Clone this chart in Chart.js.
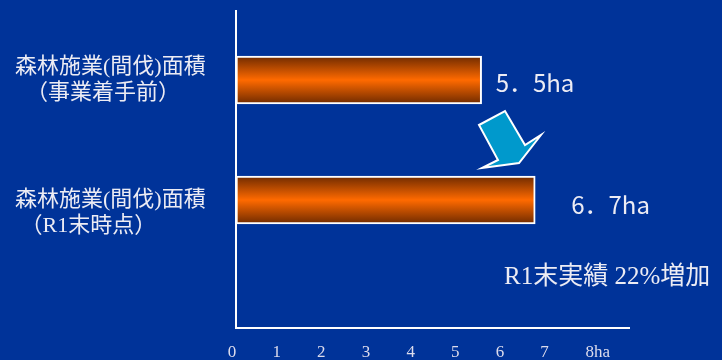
<!DOCTYPE html>
<html>
<head>
<meta charset="utf-8">
<script src="https://cdn.jsdelivr.net/npm/chart.js@4/dist/chart.umd.min.js"></script>
<style>
  html, body { margin: 0; padding: 0; background: #003399; }
  #wrap { width: 722px; height: 360px; }
</style>
</head>
<body>
<div id="wrap"><canvas id="c" width="722" height="360"></canvas></div>
<script>
// ---- data ----
const categories = [
  ['森林施業(間伐)面積', '  （事業着手前）'],
  ['', '森林施業(間伐)面積', ' （R1末時点）']
];
const areaValues = [5.5, 6.7];
const valueLabels = ['5．5ha', '6．7ha'];
const xTickValues = [0, 1, 2, 3, 4, 5, 6, 7, 8];
const xTickLabels = ['0', '1', '2', '3', '4', '5', '6', '7', '    8ha'];
const noteText = 'R1末実績 22%増加';

// ---- styles ----
const BG = '#003399';
const TEXT = '#ececf4';
const MIXED_FONT = '"Liberation Serif", "Noto Sans CJK JP"';

const bgPlugin = {
  id: 'bg',
  beforeDraw(chart) {
    const ctx = chart.ctx;
    ctx.save();
    ctx.fillStyle = BG;
    ctx.fillRect(0, 0, chart.width, chart.height);
    ctx.restore();
  }
};

const annotPlugin = {
  id: 'annot',
  afterDatasetsDraw(chart, args, opts) {
    const ctx = chart.ctx;
    const meta = chart.getDatasetMeta(0);
    ctx.save();
    // value labels
    ctx.fillStyle = TEXT;
    ctx.font = '24px "Noto Sans CJK JP"';
    ctx.textBaseline = 'middle';
    ctx.textAlign = 'left';
    meta.data.forEach((bar, i) => {
      ctx.fillText(valueLabels[i], bar.x + opts.gaps[i], bar.y + opts.dy[i]);
    });
    // arrow (decoration)
    const pts = opts.arrow;
    ctx.beginPath();
    ctx.moveTo(pts[0][0], pts[0][1]);
    for (let k = 1; k < pts.length; k++) ctx.lineTo(pts[k][0], pts[k][1]);
    ctx.closePath();
    ctx.fillStyle = '#0099cc';
    ctx.fill();
    ctx.lineWidth = 2;
    ctx.lineJoin = 'miter';
    ctx.strokeStyle = '#ffffff';
    ctx.stroke();
    // note
    ctx.fillStyle = TEXT;
    ctx.font = '25px ' + MIXED_FONT;
    ctx.textBaseline = 'middle';
    ctx.fillText(noteText, opts.note[0], opts.note[1]);
    ctx.restore();
  }
};

new Chart(document.getElementById('c'), {
  type: 'bar',
  data: {
    datasets: [{
      data: areaValues.map((v, i) => ({ x: v, y: i })),
      barThickness: 48,
      borderWidth: 2,
      borderColor: '#ffffff',
      borderSkipped: false,
      backgroundColor(ctx) {
        const chart = ctx.chart;
        if (!chart.chartArea || !chart.scales.y || !ctx.parsed) return '#ff6600';
        const cy = chart.scales.y.getPixelForValue(ctx.parsed.y);
        if (!isFinite(cy)) return '#ff6600';
        const g = chart.ctx.createLinearGradient(0, cy - 24, 0, cy + 24);
        g.addColorStop(0, '#6e2a00');
        g.addColorStop(0.5, '#ff6a00');
        g.addColorStop(1, '#6e2a00');
        return g;
      }
    }]
  },
  options: {
    indexAxis: 'y',
    responsive: false,
    animation: false,
    devicePixelRatio: 1,
    layout: { padding: { left: 15, top: 11, right: 93, bottom: 0 } },
    plugins: {
      legend: { display: false },
      tooltip: { enabled: false },
      annot: {
        gaps: [14, 36],
        dy: [3, 5],
        arrow: [[479, 125], [505, 111], [525, 145], [541, 135], [519, 163], [482, 168], [498, 160]],
        note: [504, 277]
      }
    },
    scales: {
      x: {
        type: 'linear',
        min: 0,
        max: 8.8,
        offset: false,
        grid: { display: false, drawTicks: false },
        border: { display: true, color: '#ffffff', width: 2 },
        afterBuildTicks(scale) { scale.ticks = xTickValues.map(v => ({ value: v })); },
        afterFit(scale) { scale.height = 32; scale.paddingLeft = 0; scale.paddingRight = 0; },
        ticks: {
          color: '#dcdcec',
          font: { family: '"Liberation Serif"', size: 17 },
          padding: 14,
          labelOffset: -4,
          maxRotation: 0,
          autoSkip: false,
          callback(v, i) { return xTickLabels[i]; }
        }
      },
      y: {
        type: 'linear',
        reverse: true,
        offset: false,
        min: -0.575,
        max: 2.0667,
        grid: { display: false, drawTicks: false, offset: false },
        border: { display: true, color: '#ffffff', width: 2 },
        afterBuildTicks(scale) { scale.ticks = categories.map((c, i) => ({ value: i })); },
        afterFit(scale) { scale.width = 221; scale.paddingTop = 0; scale.paddingBottom = 0; },
        ticks: {
          color: TEXT,
          crossAlign: 'far',
          font: { family: MIXED_FONT, size: 22, lineHeight: 1.2 },
          autoSkip: false,
          callback(v, i) { return categories[i]; }
        }
      }
    }
  },
  plugins: [bgPlugin, annotPlugin]
});
</script>
</body>
</html>
